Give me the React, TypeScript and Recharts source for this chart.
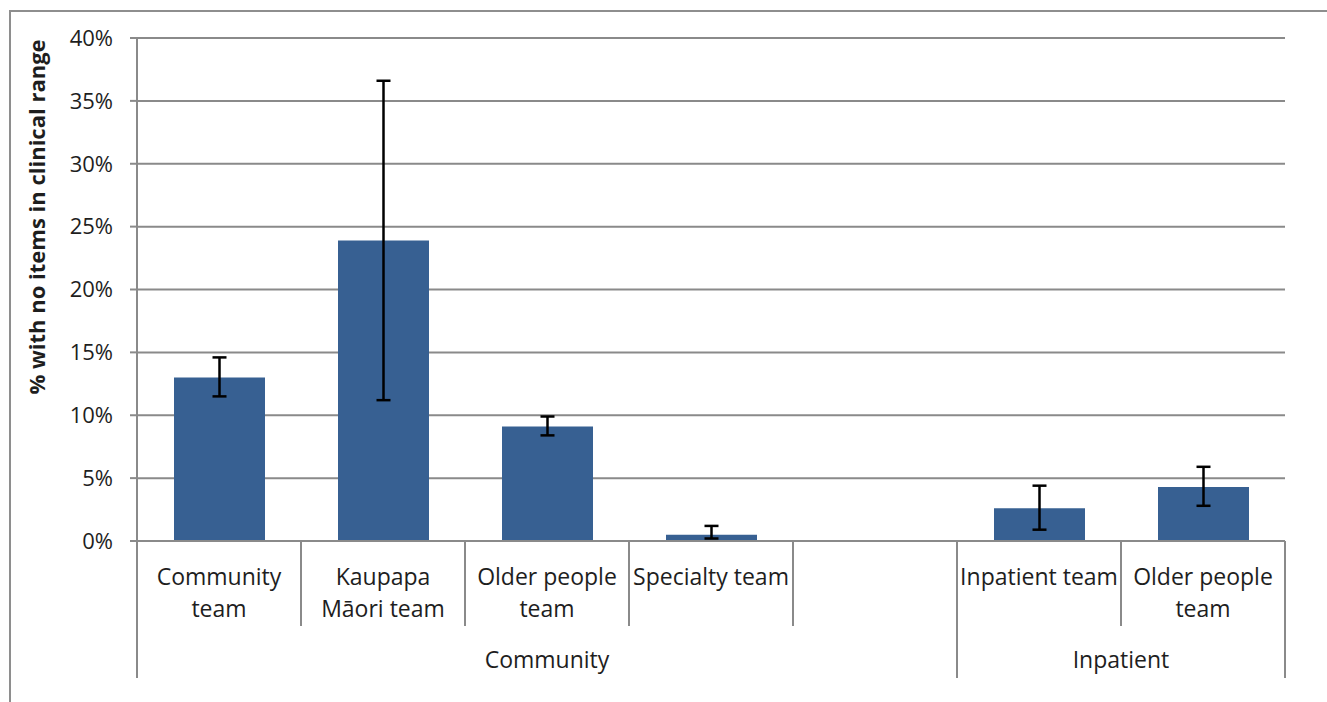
import React from "react";
import {
  BarChart,
  Bar,
  XAxis,
  YAxis,
  CartesianGrid,
  ErrorBar,
} from "recharts";

// category labels, one array of text lines per bar slot (slot 4 is an empty spacer)
const categoryLines: string[][] = [
  ["Community", "team"],
  ["Kaupapa", "Māori team"],
  ["Older people", "team"],
  ["Specialty team"],
  [],
  ["Inpatient team"],
  ["Older people", "team"],
];
const groupOf = [
  "Community",
  "Community",
  "Community",
  "Community",
  "Community",
  "Inpatient",
  "Inpatient",
];
// % with no items in clinical range, with 95% CI
const values = [13.0, 23.9, 9.1, 0.5, null, 2.6, 4.3];
const lower = [11.5, 11.2, 8.4, 0.2, null, 0.9, 2.8];
const upper = [14.6, 36.6, 9.9, 1.2, null, 4.4, 5.9];
const yTicks = [0, 5, 10, 15, 20, 25, 30, 35, 40];

const data = values.map((v, i) => ({
  key: `c${i}`,
  value: v,
  err: v == null ? [0, 0] : [v - (lower[i] as number), (upper[i] as number) - v],
}));

const GRID = "#8a8a8a";
const TEXT = "#1e1e1e";
const FONT = "'Open Sans', sans-serif";

function CategoryTick(props: any) {
  const { x, y, payload, index } = props;
  const half = payload?.offset ? payload.offset : 82;
  const grp = groupOf[index];
  const groupStart = index === 0 || groupOf[index - 1] !== grp;
  const isLast = index === groupOf.length - 1;
  const groupSize = groupOf.filter((g) => g === grp).length;
  const lines = categoryLines[index] || [];
  return (
    <g>
      <line
        x1={x - half}
        x2={x - half}
        y1={y}
        y2={y + (groupStart ? 137 : 85)}
        stroke={GRID}
        strokeWidth={2}
      />
      {isLast && (
        <line
          x1={x + half}
          x2={x + half}
          y1={y}
          y2={y + 137}
          stroke={GRID}
          strokeWidth={2}
        />
      )}
      {lines.map((t, k) => (
        <text
          key={k}
          x={x}
          y={y + 44 + k * 32}
          textAnchor="middle"
          fontSize={23}
          fontFamily={FONT}
          fill={TEXT}
        >
          {t}
        </text>
      ))}
      {groupStart && (
        <text
          x={x - half + groupSize * half}
          y={y + 127}
          textAnchor="middle"
          fontSize={23}
          fontFamily={FONT}
          fill={TEXT}
        >
          {grp}
        </text>
      )}
    </g>
  );
}

export default function App() {
  return (
    <div
      style={{
        position: "absolute",
        left: 0,
        top: 0,
        width: 1327,
        height: 702,
        overflow: "hidden",
        background: "#fff",
      }}
    >
      <div
        style={{
          position: "absolute",
          left: 9,
          top: 10,
          width: 1400,
          height: 800,
          border: "2px solid #8e8e8e",
        }}
      />
      <div style={{ position: "absolute", left: 0, top: 0 }}>
        <BarChart
          width={1327}
          height={702}
          data={data}
          margin={{ top: 38, right: 42, left: 57, bottom: 24 }}
        >
          <CartesianGrid
            vertical={false}
            stroke={GRID}
            strokeWidth={2}
          />
          <XAxis
            dataKey="key"
            height={137}
            interval={0}
            tickSize={0}
            tickMargin={0}
            tickLine={false}
            axisLine={{ stroke: GRID, strokeWidth: 2 }}
            tick={<CategoryTick />}
          />
          <YAxis
            width={80}
            domain={[0, 40]}
            ticks={yTicks}
            interval={0}
            tickFormatter={(v: number) => `${v}%`}
            tickSize={7}
            tickMargin={17}
            tickLine={{ stroke: GRID, strokeWidth: 2 }}
            axisLine={{ stroke: GRID, strokeWidth: 2 }}
            tick={{ fill: TEXT, fontSize: 22, fontFamily: FONT }}
            label={{
              content: () => (
                <text
                  x={36}
                  y={217}
                  transform="rotate(-90 36 217)"
                  textAnchor="middle"
                  dominantBaseline="central"
                  fontSize={22}
                  fontWeight="bold"
                  fontFamily={FONT}
                  fill={TEXT}
                >
                  % with no items in clinical range
                </text>
              ),
            }}
          />
          <Bar
            dataKey="value"
            fill="#376092"
            barSize={91}
            isAnimationActive={false}
          >
            <ErrorBar
              dataKey="err"
              width={7}
              stroke="#000"
              strokeWidth={2.5}
              direction="y"
            />
          </Bar>
        </BarChart>
      </div>
    </div>
  );
}
